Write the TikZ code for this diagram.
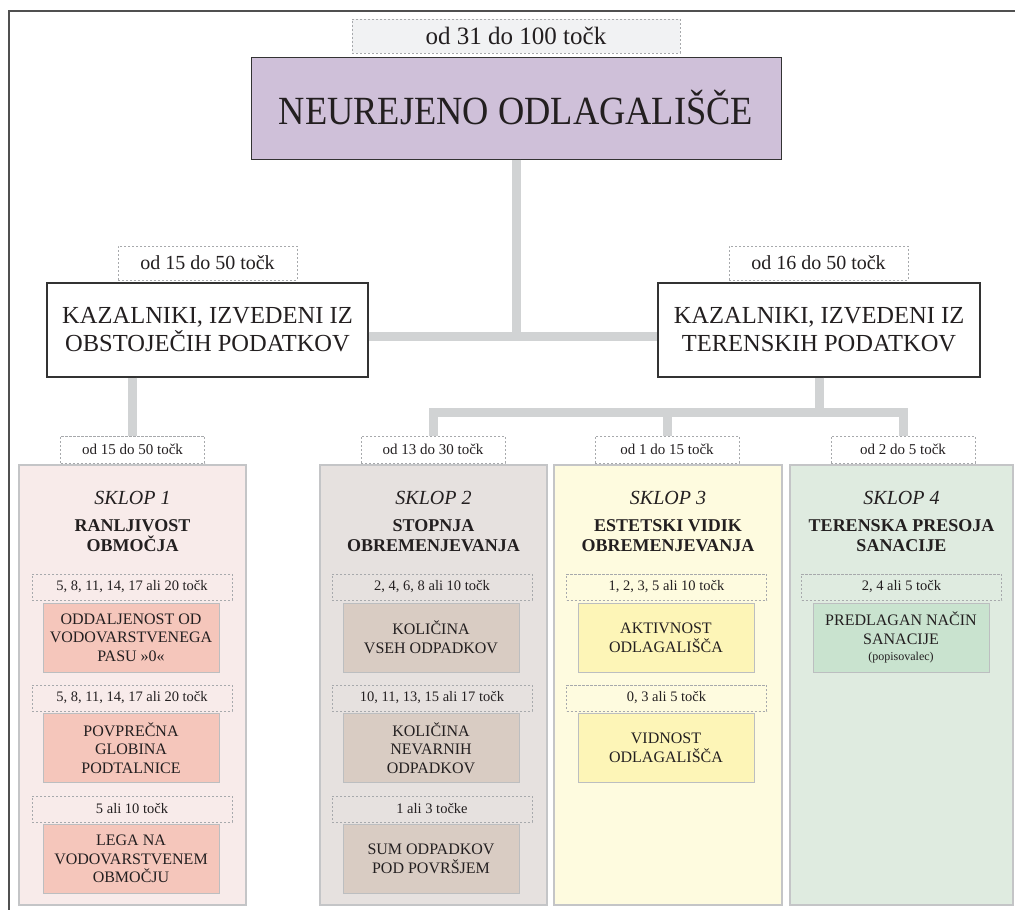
\documentclass[tikz,border=0pt]{standalone}
\usepackage{fontspec}
\setmainfont{Liberation Serif}
\newfontfamily\titlefont{Liberation Serif}[FakeStretch=0.91]
\usetikzlibrary{shadows}
\definecolor{framegray}{HTML}{505050}
\definecolor{conngray}{HTML}{D1D3D4}
\definecolor{dashgray}{HTML}{A7A9AC}
\definecolor{panelgray}{HTML}{C4C5C7}
\definecolor{boxgray}{HTML}{BCBEC0}
\definecolor{topfill}{HTML}{F1F2F3}
\definecolor{mainfill}{HTML}{CFC0D9}
\definecolor{pa}{HTML}{F8EBEA}
\definecolor{pabox}{HTML}{F5C6BB}
\definecolor{pb}{HTML}{E6E1DF}
\definecolor{pbbox}{HTML}{D9CCC3}
\definecolor{pc}{HTML}{FEFBDF}
\definecolor{pcbox}{HTML}{FDF5B7}
\definecolor{pd}{HTML}{DFEBE0}
\definecolor{pdbox}{HTML}{C9E3CF}
\definecolor{textdark}{HTML}{231F20}
\begin{document}
\begin{tikzpicture}[x=1pt,y=-1pt,
  every node/.style={text=textdark},
  frameline/.style={draw=framegray, line width=1.5pt},
  conn/.style={draw=conngray, line width=9pt},
  dlabel/.style={draw=dashgray, dash pattern=on 2.2pt off 1.8pt, line width=0.8pt, inner sep=0pt, align=center},
  toplabel/.style={dlabel, fill=topfill, minimum width=328, minimum height=34, font=\fontsize{25}{28}\selectfont},
  kazlabel/.style={dlabel, fill=white, minimum width=179, minimum height=34, font=\fontsize{20}{24}\selectfont},
  sklabel/.style={dlabel, fill=white, minimum width=144, minimum height=27, font=\fontsize{15}{18}\selectfont},
  inlabel/.style={dlabel, minimum width=200, minimum height=26, font=\fontsize{14.5}{17}\selectfont},
  mainbox/.style={draw=black!80, line width=1pt, fill=mainfill, inner sep=0pt, minimum width=530, minimum height=102,
     drop shadow={shadow xshift=0.9pt, shadow yshift=-1.3pt, fill=black!75, opacity=1},
     font=\titlefont\fontsize{40}{44}\selectfont},
  kazbox/.style={draw=black!80, line width=1.1pt, fill=white, inner sep=0pt, minimum width=321, minimum height=94, align=center,
     font=\fontsize{24.5}{28}\selectfont},
  panel/.style={draw=panelgray, line width=2.5pt, inner sep=0pt, minimum height=440},
  sklop/.style={font=\itshape\fontsize{20}{22}\selectfont, inner sep=0pt},
  ptitle/.style={font=\bfseries\fontsize{18}{20}\selectfont, align=center, inner sep=0pt},
  ibox/.style={draw=boxgray, line width=0.8pt, inner sep=0pt, minimum width=176, minimum height=69, align=center,
     font=\fontsize{16}{18.7}\selectfont}
]
\useasboundingbox (0,0) rectangle (1015,910);
\fill[white] (0,0) rectangle (1015,910);
% outer frame
\draw[frameline] (9,910) -- (9,11) -- (1015,11);

% top level
\node[toplabel] (toplab) at (516,36) {od 31 do 100 točk};
\node[mainbox] (main) at (516,108) {NEUREJENO ODLAGALIŠČE};

% second level
\node[kazlabel] (kl1) at (207.5,263) {od 15 do 50 točk};
\node[kazbox] (kaz1) at (207.5,330) {KAZALNIKI, IZVEDENI IZ\\OBSTOJEČIH PODATKOV};
\node[kazlabel] (kl2) at (818.5,263) {od 16 do 50 točk};
\node[kazbox, minimum width=322] (kaz2) at (819,330) {KAZALNIKI, IZVEDENI IZ\\TERENSKIH PODATKOV};

% panel labels
\node[sklabel] (l1) at (132.5,449.5) {od 15 do 50 točk};
\node[sklabel] (l2) at (433,449.5) {od 13 do 30 točk};
\node[sklabel] (l3) at (667,449.5) {od 1 do 15 točk};
\node[sklabel] (l4) at (903,449.5) {od 2 do 5 točk};

% connectors
\coordinate (tj) at (516,336);
\coordinate (bus) at (819,412.5);
\draw[conn] (main.south) -- (tj);
\draw[conn] (kaz1.east |- tj) -- (kaz2.west |- tj);
\draw[conn] (kaz1.south -| l1.north) -- (l1.north);
\draw[conn] (kaz2.south) -- (bus);
\draw[conn] (l2.north) |- (l4.north |- bus) -- (l4.north);
\draw[conn] (l3.north |- bus) -- (l3.north);

% panel 1
\node[panel, fill=pa, minimum width=227] (p1) at (132.5,685) {};
\node[sklop] (s1) at (132.5,498) {SKLOP 1};
\node[ptitle] (t1) at (132.5,535.5) {RANLJIVOST\\OBMOČJA};
\node[inlabel] (p1l1) at (132,587) {5, 8, 11, 14, 17 ali 20 točk};
\node[ibox, fill=pabox] (p1b1) at (131,637.5) {ODDALJENOST OD\\VODOVARSTVENEGA\\PASU »0«};
\node[inlabel] (p1l2) at (132,698) {5, 8, 11, 14, 17 ali 20 točk};
\node[ibox, fill=pabox] (p1b2) at (131,748) {POVPREČNA\\GLOBINA\\PODTALNICE};
\node[inlabel] (p1l3) at (132,809) {5 ali 10 točk};
\node[ibox, fill=pabox] (p1b3) at (131,859) {LEGA NA\\VODOVARSTVENEM\\OBMOČJU};

% panel 2
\node[panel, fill=pb, minimum width=227] (p2) at (433.5,685) {};
\node[sklop] (s2) at (433.5,498) {SKLOP 2};
\node[ptitle] (t2) at (433.5,535.5) {STOPNJA\\OBREMENJEVANJA};
\node[inlabel] (p2l1) at (432,587) {2, 4, 6, 8 ali 10 točk};
\node[ibox, fill=pbbox] (p2b1) at (431,637.5) {KOLIČINA\\VSEH ODPADKOV};
\node[inlabel] (p2l2) at (432,698) {10, 11, 13, 15 ali 17 točk};
\node[ibox, fill=pbbox] (p2b2) at (431,748) {KOLIČINA\\NEVARNIH\\ODPADKOV};
\node[inlabel] (p2l3) at (432,809) {1 ali 3 točke};
\node[ibox, fill=pbbox] (p2b3) at (431,859) {SUM ODPADKOV\\POD POVRŠJEM};

% panel 3
\node[panel, fill=pc, minimum width=228] (p3) at (668,685) {};
\node[sklop] (s3) at (668,498) {SKLOP 3};
\node[ptitle] (t3) at (668,535.5) {ESTETSKI VIDIK\\OBREMENJEVANJA};
\node[inlabel] (p3l1) at (666.5,587) {1, 2, 3, 5 ali 10 točk};
\node[ibox, fill=pcbox] (p3b1) at (666,637.5) {AKTIVNOST\\ODLAGALIŠČA};
\node[inlabel] (p3l2) at (666.5,698) {0, 3 ali 5 točk};
\node[ibox, fill=pcbox] (p3b2) at (666,748) {VIDNOST\\ODLAGALIŠČA};

% panel 4
\node[panel, fill=pd, minimum width=223] (p4) at (901.5,685) {};
\node[sklop] (s4) at (901.5,498) {SKLOP 4};
\node[ptitle] (t4) at (901.5,535.5) {TERENSKA PRESOJA\\SANACIJE};
\node[inlabel] (p4l1) at (901.5,587) {2, 4 ali 5 točk};
\node[ibox, fill=pdbox] (p4b1) at (901,637.5) {PREDLAGAN NAČIN\\SANACIJE\\[-2pt]{\fontsize{12}{14}\selectfont(popisovalec)}};
\end{tikzpicture}
\end{document}
